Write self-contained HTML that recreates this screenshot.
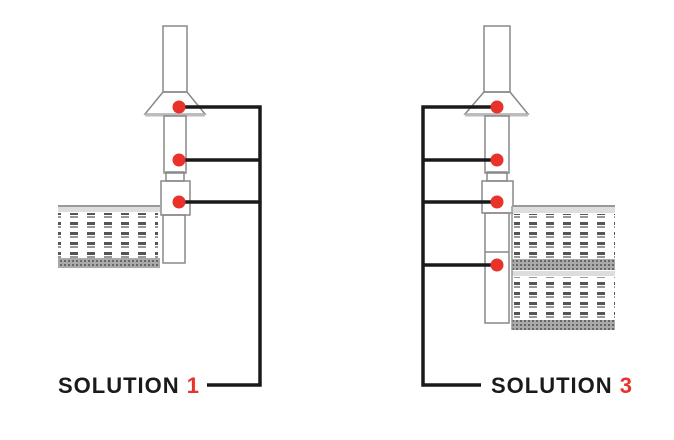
<!DOCTYPE html>
<html><head><meta charset="utf-8"><style>
html,body{margin:0;padding:0;background:#fff;width:674px;height:440px;overflow:hidden}
svg{display:block}
text{font-family:"Liberation Sans",sans-serif;font-weight:bold;font-size:22px;letter-spacing:1px}
</style></head><body>
<svg width="674" height="440" viewBox="0 0 674 440">
<defs>
<pattern id="bld" x="0" y="0" width="17" height="10" patternUnits="userSpaceOnUse">
<rect x="2" y="2" width="8" height="3" fill="#555"/>
<rect x="2" y="6" width="8" height="2" fill="#999"/>
</pattern>
<pattern id="hatch" width="4" height="4" patternUnits="userSpaceOnUse">
<rect width="4" height="4" fill="#aaa"/><rect width="2" height="2" fill="#666"/>
</pattern>
</defs>
<g fill="none" stroke="#888" stroke-width="1.5">
<!-- left chimney -->
<rect x="163" y="26" width="24" height="66"/>
<polygon points="163,92 187,92 205,114 145,114"/>
<line x1="145" y1="115" x2="205" y2="115" stroke="#bbb" stroke-width="3"/>
<rect x="164" y="116" width="22" height="57"/>
<rect x="166" y="172" width="18" height="9"/>
<rect x="161" y="181" width="29" height="34"/>
<rect x="163" y="215" width="22" height="48"/>
<!-- right chimney -->
<rect x="484" y="26" width="26" height="66"/>
<polygon points="484,92 510,92 528,114 465,114"/>
<line x1="465" y1="115" x2="528" y2="115" stroke="#bbb" stroke-width="3"/>
<rect x="485" y="116" width="24" height="57"/>
<rect x="487" y="172" width="20" height="9"/>
<rect x="482" y="181" width="31" height="32"/>
<rect x="485" y="213" width="24" height="110"/>
<line x1="485" y1="252" x2="509" y2="252"/>
</g>
<!-- left building -->
<rect x="58" y="206" width="102" height="6" fill="#ddd"/>
<rect x="58" y="213" width="100" height="45" fill="url(#bld)"/>
<rect x="58" y="258" width="102" height="10" fill="url(#hatch)"/>
<line x1="58" y1="206" x2="160" y2="206" stroke="#999" stroke-width="2"/>
<!-- right building -->
<line x1="512" y1="206" x2="615" y2="206" stroke="#999" stroke-width="2"/>
<rect x="512" y="207" width="103" height="6" fill="#ddd"/>
<rect x="514" y="214" width="101" height="44" fill="url(#bld)"/>
<rect x="512" y="259" width="103" height="11" fill="url(#hatch)"/>
<rect x="512" y="271" width="103" height="5" fill="#ddd"/>
<rect x="514" y="277" width="101" height="42" fill="url(#bld)"/>
<rect x="512" y="320" width="103" height="10" fill="url(#hatch)"/>
<line x1="512" y1="206" x2="512" y2="330" stroke="#999" stroke-width="1.5"/>
<!-- connectors -->
<g stroke="#1a1a1a" stroke-width="3.5" fill="none">
<polyline points="179,107 260,107 260,385 207,385"/>
<line x1="179" y1="160" x2="260" y2="160"/>
<line x1="179" y1="202" x2="260" y2="202"/>
<polyline points="497,107 423,107 423,385 481,385"/>
<line x1="497" y1="160" x2="423" y2="160"/>
<line x1="497" y1="202" x2="423" y2="202"/>
<line x1="497" y1="265" x2="423" y2="265"/>
</g>
<g fill="#e8322a">
<circle cx="179" cy="107" r="6.5"/><circle cx="179" cy="160" r="6.5"/><circle cx="179" cy="202" r="6.5"/>
<circle cx="497" cy="107" r="6.5"/><circle cx="497" cy="160" r="6.5"/><circle cx="497" cy="202" r="6.5"/><circle cx="497" cy="265" r="6.5"/>
</g>
<text x="58" y="393" fill="#1a1a1a">SOLUTION <tspan fill="#e8322a">1</tspan></text>
<text x="491" y="393" fill="#1a1a1a">SOLUTION <tspan fill="#e8322a">3</tspan></text>
</svg>
</body></html>
